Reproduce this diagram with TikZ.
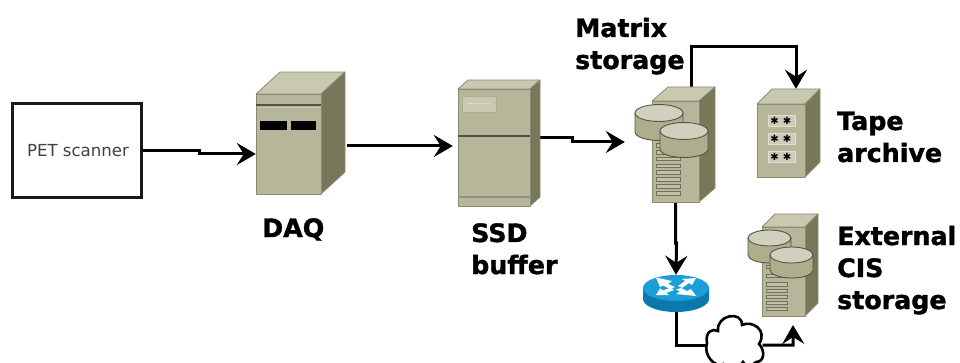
\documentclass[tikz,border=0pt]{standalone}
\usepackage{fontspec}
\setmainfont{DejaVu Sans}
\newfontfamily\labf[FakeBold=1.4]{DejaVu Sans Bold}
\usetikzlibrary{arrows.meta,calc}
\definecolor{devfront}{HTML}{B6B69A}
\definecolor{devside}{HTML}{77775A}
\definecolor{devtop}{HTML}{C9C9B2}
\definecolor{devedge}{HTML}{8C8C72}
\definecolor{devdark}{HTML}{55553F}
\definecolor{diskside}{HTML}{AEAE8E}
\definecolor{disktop}{HTML}{D0D0BE}
\definecolor{routertop}{HTML}{1C9FD9}
\definecolor{routerside}{HTML}{0B79AC}
\tikzset{
  wire/.style={line width=3pt,draw=black,-{Stealth[length=19pt,width=22pt,inset=7pt]}},
  plainwire/.style={line width=3pt,draw=black},
  bigl/.style={font=\fontsize{25.3}{25}\labf,anchor=base west,inner sep=0pt,text=black},
  slotline/.style={draw=devedge!80!black,line width=1pt,fill=devfront!85!white},
}
% front x1,x2 ; y1,y2 ; depth dx, dy
\newcommand{\BoxDev}[6]{%
  \fill[devtop,draw=devedge,line width=0.8pt,line join=round] (#1,#3) -- ({#1+#5},{#3-#6}) -- ({#2+#5},{#3-#6}) -- (#2,#3) -- cycle;
  \fill[devside,draw=devedge,line width=0.8pt,line join=round] (#2,#3) -- ({#2+#5},{#3-#6}) -- ({#2+#5},{#4-#6}) -- (#2,#4) -- cycle;
  \fill[devfront,draw=devedge,line width=0.8pt,line join=round] (#1,#3) rectangle (#2,#4);
}
% x1,x2 ; ytop centre ; ylow centre ; ry
\newcommand{\DiskDev}[5]{%
  \fill[diskside,draw=devdark,line width=0.9pt] (#1,#3) -- (#1,#4) arc[x radius={(#2-#1)/2},y radius=#5,start angle=180,end angle=0] -- (#2,#3) -- cycle;
  \fill[disktop,draw=devdark,line width=0.9pt] ({(#1+#2)/2},#3) ellipse[x radius={(#2-#1)/2},y radius=#5];
}
\newcommand{\TapeSlot}[1]{%
  \fill[devfront!70!white,draw=devtop!60!white,line width=0.8pt] (768,#1) rectangle (795,{#1+11});
  \node[font=\fontsize{10}{10}\selectfont,inner sep=0pt] at (774.5,{#1+5.5}) {✱};
  \node[font=\fontsize{10}{10}\selectfont,inner sep=0pt] at (787,{#1+5.5}) {✱};
}
\begin{document}
\begin{tikzpicture}[x=1pt,y=-1pt]
\useasboundingbox (0,0) rectangle (960,363);
\fill[white] (0,0) rectangle (960,363);

% anchor nodes
\node[draw=black!90,line width=3pt,minimum width=129pt,minimum height=94pt,inner sep=0pt,font=\fontsize{16.6}{17}\selectfont,text=black!75] (pet) at (76.5,151) {\hspace*{3pt}PET scanner};
\node[inner sep=0pt,minimum width=65pt,minimum height=100pt] (daq) at (288.5,144) {};
\node[inner sep=0pt,minimum width=72pt,minimum height=117pt] (ssd) at (494,147.5) {};
\node[inner sep=0pt,minimum width=47pt,minimum height=115pt] (mat) at (675.5,144.5) {};
\node[inner sep=0pt,minimum width=63pt,minimum height=88pt] (tape) at (788.5,133) {};
\node[inner sep=0pt,minimum width=66pt,minimum height=37pt] (router) at (676,293.5) {};
\node[inner sep=0pt,minimum width=55pt,minimum height=40pt] (cloud) at (735,345) {};
\coordinate (extin) at (793,325);

% connectors behind devices
\draw[wire] (pet.east) -- ++(57,0) -- ++(0,3) -- ([yshift=-10pt]daq.west);
\draw[wire] ($(daq.east)+(25.5,2)$) -- ($(ssd.west)+(-5,-1.5)$);
\draw[wire] ($(ssd.east)+(10,-9.5)$) -- ++(32,0) -- ++(0,4) -- ($(mat.west)+(-27,-2.5)$);
\draw[wire] (mat.north -| 691,0) -- (691,47) -- (796,47) -- (tape.north -| 796,0);
\draw[wire] (mat.south) -- ++(0,41) -- ++(1,0) -- (router.north);
\draw[plainwire] (router.south) |- (cloud.west);
\draw[wire] (cloud.east) -- ++(30.5,0) -- (extin);

% DAQ
\BoxDev{256}{321}{94}{194}{24}{22}
\fill[devdark] (256,104) rectangle (321,106.5);
\draw[devtop,line width=0.7pt] (256.5,107.3) -- (320.5,107.3);
\fill[black] (260,121) rectangle (287,130);
\fill[black] (291,121) rectangle (316,130);

% SSD
\BoxDev{458}{530}{89}{206}{10}{9}
\fill[devdark] (458,134.7) rectangle (530,136.7);
\draw[devedge!80!devfront,line width=1.2pt] (458,197) -- (530,197);
\fill[devtop,draw=devfront!80!devedge,line width=0.8pt] (462,96) rectangle (496,112);
\draw[devfront!50!white,line width=0.9pt] (467,103.5) -- (490,103.5);

% Matrix storage
\BoxDev{652}{699}{101}{202}{16}{14}
\foreach \yy in {145.7,152.3,159,166,172.7,179.7,186.3,193.3}{
  \draw[slotline] (656,\yy-1.8) rectangle (680,\yy+1.8);
}
\DiskDev{635}{683}{113}{132}{8.5}
\DiskDev{660}{708}{131}{149}{8.5}

% Tape archive
\BoxDev{757}{805}{104}{177}{15}{15}
\TapeSlot{115}
\TapeSlot{133}
\TapeSlot{151}

% External storage
\BoxDev{762}{805}{227}{316}{13}{13}
\foreach \yy in {267,276,284.5,291,297,303,309}{
  \draw[slotline] (766,\yy-1.6) rectangle (787,\yy+1.6);
}
\DiskDev{748}{791}{238}{255}{8}
\DiskDev{770}{813}{255}{270}{8}

% Router
\fill[routerside] (643,288) -- (643,299) arc[x radius=33,y radius=13,start angle=180,end angle=0] -- (709,288) -- cycle;
\fill[routertop] (676,288) ellipse[x radius=33,y radius=13];
\begin{scope}[white]
  \fill (656,277.5) -- (672,281) -- (668,284) -- (675,287) -- (670,289) -- (663,285.5) -- (660,287) -- cycle;
  \fill (696,278) -- (692,285) -- (689,283) -- (682,288) -- (678,286) -- (685,281) -- (682,279) -- cycle;
  \fill (656,295) -- (660,288.5) -- (663,290.5) -- (671,287.5) -- (674,290) -- (666,293) -- (669,295) -- cycle;
  \fill (696,296) -- (676,294) -- (680,291.5) -- (676,289.5) -- (681,288) -- (687,291) -- (691,289) -- cycle;
\end{scope}

% Cloud
\filldraw[fill=white,draw=black,line width=2.6pt]
  (707,343) .. controls (705,332) and (712,328) .. (718,331)
  .. controls (716,315) and (742,310) .. (742,325)
  .. controls (752,320) and (768,330) .. (759,344)
  .. controls (765,350) and (765,362) .. (756,362)
  .. controls (750,368) and (745,366) .. (743,362)
  .. controls (738,372) and (725,372) .. (723,364)
  .. controls (715,368) and (703,355) .. (707,343) -- cycle;

% Labels
\node[bigl] (lm) at (575,37) {Matrix};
\node[bigl] (ls) at (575,69) {storage};
\node[bigl] (lt) at (837,130) {Tape};
\node[bigl] (la) at (837,162) {archive};
\node[bigl] (le) at (837,245) {External};
\node[bigl] (lc) at (837,277) {CIS};
\node[bigl] (lx) at (837,309) {storage};
\node[bigl] (ld) at (262,237) {DAQ};
\node[bigl] (lss) at (471,242) {SSD};
\node[bigl] (lb) at (471,274) {buffer};
\end{tikzpicture}
\end{document}
